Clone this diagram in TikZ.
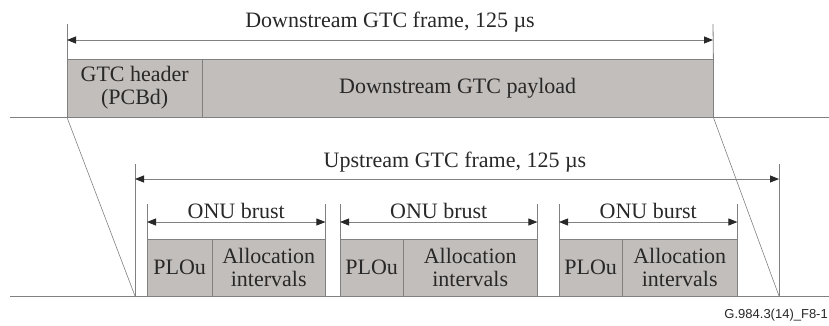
\documentclass[tikz,border=0pt]{standalone}
\usepackage{fontspec}
\setmainfont{Liberation Serif}
\newfontfamily\notefont{Liberation Sans}
\usetikzlibrary{arrows.meta,calc}
\definecolor{linegray}{RGB}{128,128,128}
\definecolor{boxgray}{RGB}{194,190,187}
\definecolor{txt}{RGB}{40,40,40}
\tikzset{
  seg/.style={draw=linegray, fill=boxgray, inner sep=0pt, anchor=north west,
              align=center, text=txt, font=\fontsize{22}{23}\selectfont},
  lbl/.style={inner sep=0pt, text=txt, font=\fontsize{22}{23}\selectfont},
  thin/.style={draw=linegray, line width=0.8pt},
  dim/.style={thin, {Triangle[length=9pt,width=7pt,color=txt]}-{Triangle[length=9pt,width=7pt,color=txt]}},
}
\begin{document}
\begin{tikzpicture}[x=1pt,y=-1pt]
\useasboundingbox (0,0) rectangle (829,325);
% baselines
\coordinate (l1a) at (10,117); \coordinate (l1b) at (829,117);
\coordinate (l2a) at (10,296); \coordinate (l2b) at (829,296);
\draw[thin] (l1a) -- (l1b);
\draw[thin] (l2a) -- (l2b);
% downstream frame
\node[seg, minimum width=135pt, minimum height=58pt] (hdr) at (67,59) {GTC header\\(PCBd)};
\node[seg, minimum width=511pt, minimum height=58pt] (pay) at (202,59) {Downstream GTC payload};
\coordinate (dtl) at (67,24); \coordinate (dtr) at (713,24);
\coordinate (dal) at (67,40); \coordinate (dar) at (713,40);
\draw[thin] (dtl) -- (hdr.north west);
\draw[thin] (dtr) -- (pay.north east);
\draw[dim] (dal) -- (dar);
\node[lbl] (dlab) at (390,22) {Downstream GTC frame, 125 µs};
% upstream frame
\coordinate (utl) at (135,164); \coordinate (utr) at (779,164);
\coordinate (ubl) at (135,296); \coordinate (ubr) at (779,296);
\coordinate (ual) at (135,179); \coordinate (uar) at (779,179);
\draw[thin] (utl) -- (ubl);
\draw[thin] (utr) -- (ubr);
\draw[dim] (ual) -- (uar);
\node[lbl] (ulab) at (455,162) {Upstream GTC frame, 125 µs};
% slant lines
\draw[thin, line width=0.6pt] (hdr.south west) -- (ubl);
\draw[thin, line width=0.6pt] (pay.south east) -- (ubr);
% bursts
\node[seg, minimum width=65pt, minimum height=57pt] (p1) at (147,239) {PLOu};
\node[seg, minimum width=113pt, minimum height=57pt] (a1) at (212,239) {Allocation\\intervals};
\node[seg, minimum width=63pt, minimum height=57pt] (p2) at (340,239) {PLOu};
\node[seg, minimum width=134pt, minimum height=57pt] (a2) at (403,239) {Allocation\\intervals};
\node[seg, minimum width=63pt, minimum height=57pt] (p3) at (559,239) {PLOu};
\node[seg, minimum width=115pt, minimum height=57pt] (a3) at (622,239) {Allocation\\intervals};
% burst dimension lines
\foreach \p/\a/\t in {p1/a1/ONU brust, p2/a2/ONU brust, p3/a3/ONU burst}{
  \coordinate (\p tl) at ([yshift=35pt]\p.north west);
  \coordinate (\a tr) at ([yshift=35pt]\a.north east);
  \coordinate (\p al) at ([yshift=17pt]\p.north west);
  \coordinate (\a ar) at ([yshift=17pt]\a.north east);
  \draw[thin] (\p tl) -- (\p.north west);
  \draw[thin] (\a tr) -- (\a.north east);
  \draw[dim] (\p al) -- (\a ar);
  \node[lbl] (\p lab) at ($(\p tl)!0.5!(\a tr)+(0,7)$) {\t};
}
\node[inner sep=0pt, anchor=east, text=txt, font=\notefont\fontsize{13}{14}\selectfont] (note) at (828,315) {G.984.3(14)\_F8-1};
\end{tikzpicture}
\end{document}
